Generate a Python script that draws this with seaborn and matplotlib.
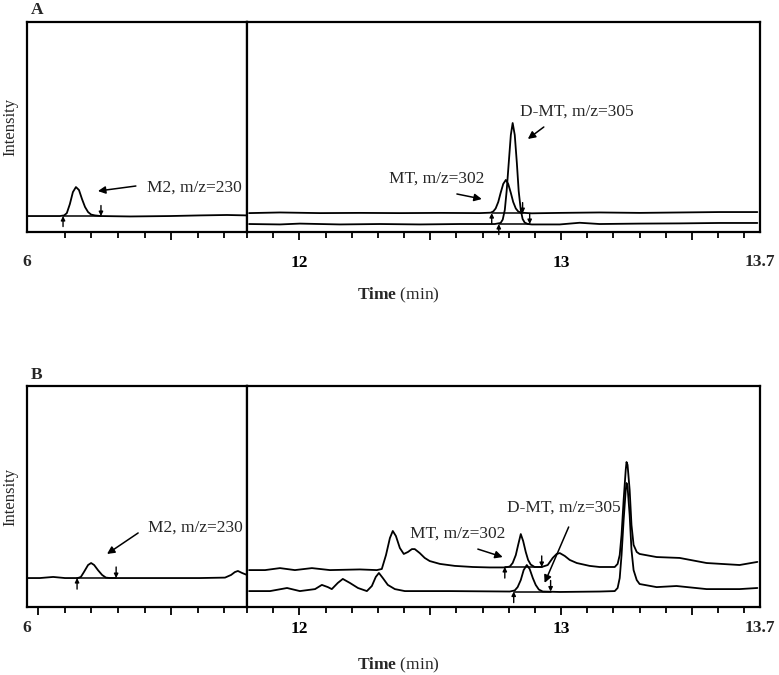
import matplotlib
matplotlib.use("Agg")
import matplotlib.pyplot as plt
import matplotlib.transforms as mtransforms
import seaborn as sns

# ---- panel A, left window (6 - 11.8 min) : M2, m/z=230
a_left_t = [6.00, 6.61, 6.87, 6.98, 7.05, 7.13, 7.21, 7.29, 7.37, 7.45, 7.53,
            7.61, 7.69, 7.79, 7.95, 8.72, 9.77, 10.56, 11.27, 11.80]
a_left_i = [7.6, 7.6, 7.6, 7.9, 9.0, 13.3, 19.0, 21.4, 20.0, 15.7, 11.9,
            9.5, 8.3, 7.9, 7.6, 7.4, 7.6, 7.9, 8.1, 7.9]

# ---- panel A, right window : MT m/z=302 (upper) and D-MT m/z=305 (lower)
a_mt_t = [11.808, 11.926, 12.079, 12.231, 12.384, 12.537, 12.689, 12.731, 12.741,
          12.750, 12.760, 12.769, 12.779, 12.789, 12.798, 12.808, 12.817, 12.827,
          12.836, 12.846, 12.888, 12.995, 13.147, 13.300, 13.453, 13.605, 13.750]
a_mt_i = [9.0, 9.3, 9.0, 9.1, 9.0, 9.1, 9.0, 9.2, 9.8,
          11.2, 14.3, 18.6, 22.9, 24.8, 22.9, 18.6, 14.3, 11.2,
          9.8, 9.2, 8.9, 9.1, 9.3, 9.1, 9.3, 9.5, 9.5]
a_dmt_t = [11.808, 11.926, 12.002, 12.155, 12.308, 12.460, 12.613, 12.747, 12.769,
           12.777, 12.785, 12.792, 12.800, 12.808, 12.815, 12.823, 12.831, 12.838,
           12.846, 12.853, 12.861, 12.873, 12.888, 12.995, 13.071, 13.147, 13.300,
           13.453, 13.605, 13.750]
a_dmt_i = [3.8, 3.6, 4.0, 3.6, 3.8, 3.6, 3.8, 3.8, 4.3,
           5.9, 10.5, 19.5, 32.9, 46.2, 51.9, 46.2, 32.9, 19.5,
           10.5, 6.2, 4.5, 3.8, 3.6, 3.6, 4.4, 3.8, 4.0,
           4.1, 4.3, 4.3]

# ---- panel B, left window
b_left_t = [6.00, 6.34, 6.69, 7.00, 7.34, 7.42, 7.50, 7.61, 7.69, 7.77, 7.87,
            7.98, 8.08, 8.19, 9.24, 10.56, 11.22, 11.38, 11.48, 11.56, 11.67, 11.80]
b_left_i = [13.1, 13.1, 13.6, 13.1, 13.1, 13.6, 15.8, 19.0, 19.9, 19.0, 16.7,
            14.5, 13.3, 13.1, 13.1, 13.1, 13.3, 14.5, 15.8, 16.3, 15.4, 14.5]

# ---- panel B, right window
b_mt_t = [11.808, 11.869, 11.926, 11.983, 12.048, 12.117, 12.231, 12.296, 12.315,
          12.331, 12.346, 12.357, 12.369, 12.384, 12.399, 12.415, 12.430, 12.441,
          12.460, 12.479, 12.498, 12.537, 12.594, 12.663, 12.727, 12.785, 12.804,
          12.815, 12.827, 12.836, 12.846, 12.855, 12.865, 12.874, 12.884, 12.899,
          12.926, 12.949, 12.968, 12.983, 12.995, 13.014, 13.033, 13.060, 13.109,
          13.147, 13.205, 13.216, 13.224, 13.231, 13.239, 13.247, 13.250, 13.254,
          13.262, 13.269, 13.277, 13.289, 13.300, 13.365, 13.453, 13.556, 13.682,
          13.750]
b_mt_i = [16.7, 16.7, 17.6, 16.7, 17.6, 16.7, 17.0, 16.7, 17.2,
          23.5, 31.2, 34.4, 32.1, 26.7, 24.0, 24.9, 26.2, 26.2,
          24.4, 22.2, 20.8, 19.5, 18.6, 18.1, 17.9, 17.9, 18.3,
          19.9, 23.5, 28.1, 33.0, 29.9, 24.9, 21.3, 19.2, 18.1,
          18.1, 19.0, 22.2, 24.0, 24.4, 23.1, 21.3, 19.9, 18.6,
          18.1, 18.1, 19.5, 23.5, 32.6, 48.4, 62.0, 65.6, 64.3,
          52.9, 37.1, 28.1, 24.9, 24.0, 22.6, 22.2, 19.9, 19.0,
          20.4]
b_dmt_t = [11.808, 11.888, 11.953, 12.002, 12.060, 12.086, 12.109, 12.124, 12.147,
           12.166, 12.193, 12.224, 12.258, 12.277, 12.292, 12.304, 12.319, 12.338,
           12.365, 12.403, 12.575, 12.804, 12.823, 12.834, 12.846, 12.857, 12.869,
           12.880, 12.892, 12.903, 12.915, 12.930, 12.995, 13.147, 13.205, 13.216,
           13.224, 13.231, 13.239, 13.247, 13.250, 13.254, 13.262, 13.269, 13.277,
           13.289, 13.300, 13.365, 13.441, 13.556, 13.682, 13.750]
b_dmt_i = [7.2, 7.2, 8.6, 7.2, 8.1, 10.0, 9.0, 8.1, 10.9,
           12.7, 10.9, 8.6, 7.2, 9.5, 13.6, 15.4, 13.1, 10.0,
           8.1, 7.2, 7.2, 7.0, 7.5, 9.0, 12.2, 16.7, 19.0,
           17.2, 13.1, 10.0, 7.9, 7.0, 6.8, 7.0, 7.2, 8.6,
           13.1, 23.5, 39.4, 52.9, 56.1, 54.3, 41.6, 25.8, 16.7,
           12.2, 10.4, 9.0, 9.5, 8.1, 8.1, 8.6]

# integration marks: (start, end, baseline)
a_left_marks = [(6.95, 7.95, 7.6)]
a_right_marks = [(12.735, 12.853, 9.0), (12.762, 12.880, 3.8)]
b_left_marks = [(7.32, 8.35, 13.1)]
b_right_marks = [(12.785, 12.926, 18.1), (12.819, 12.960, 7.0)]

# labels: (text, text x, text y, arrow tail x, tail y, head x, head y)
a_left_notes = [("M2, m/z=230", 9.16, 21.0, 8.87, 21.9, 7.87, 19.5)]
a_right_notes = [("MT, m/z=302", 12.342, 25.2, 12.602, 18.1, 12.697, 15.7),
                 ("D-MT, m/z=305", 12.842, 57.1, 12.934, 50.0, 12.873, 44.3)]
b_left_notes = [("M2, m/z=230", 9.19, 35.7, 8.93, 33.5, 8.11, 24.0)]
b_right_notes = [("MT, m/z=302", 12.422, 33.0, 12.682, 26.2, 12.777, 22.6),
                 ("D-MT, m/z=305", 12.792, 44.8, 13.029, 36.2, 12.937, 10.9)]

sns.set_style("white")
plt.rcParams["font.family"] = ["Liberation Serif", "DejaVu Serif"]
plt.rcParams["mathtext.fontset"] = "custom"
plt.rcParams["mathtext.rm"] = "Liberation Serif"
plt.rcParams["mathtext.bf"] = "Liberation Serif:bold"

fig = plt.figure(figsize=(7.79, 6.75), dpi=100)

x0, xd, x1 = 27 / 779, 247 / 779, 760 / 779
panels = [
    ("A", 1 - 232 / 675, 210 / 675, [(a_left_t, a_left_i)], [(a_mt_t, a_mt_i), (a_dmt_t, a_dmt_i)],
     a_left_marks, a_right_marks, a_left_notes, a_right_notes, [9.8], 295, 30),
    ("B", 1 - 607 / 675, 221 / 675, [(b_left_t, b_left_i)], [(b_mt_t, b_mt_i), (b_dmt_t, b_dmt_i)],
     b_left_marks, b_right_marks, b_left_notes, b_right_notes, [6.3, 9.8], 665, 21),
]


def draw_marks(ax, marks, arrow_len):
    for start, end, base in marks:
        ax.plot([start, end], [base, base], color="black", lw=1.1)
        ax.annotate("", xy=(start, base), xytext=(start, base - arrow_len),
                    arrowprops=dict(arrowstyle="-|>", color="black", lw=1.0,
                                    mutation_scale=6, shrinkA=0, shrinkB=0))
        ax.annotate("", xy=(end, base), xytext=(end, base + arrow_len),
                    arrowprops=dict(arrowstyle="-|>", color="black", lw=1.0,
                                    mutation_scale=6, shrinkA=0, shrinkB=0))


def draw_notes(ax, notes):
    for txt, tx, ty, ax_, ay, hx, hy in notes:
        ax.text(tx, ty, txt, fontsize=12.5, ha="left", va="center")
        ax.annotate("", xy=(hx, hy), xytext=(ax_, ay),
                    arrowprops=dict(arrowstyle="-|>", color="black", lw=1.1,
                                    mutation_scale=11, shrinkA=0, shrinkB=0))


for (letter, bottom, height, left_traces, right_traces, lmarks, rmarks,
     lnotes, rnotes, left_major, label_y, tick_off) in panels:
    axl = fig.add_axes([x0, bottom, xd - x0, height])
    axr = fig.add_axes([xd, bottom, x1 - xd, height])

    for t, i in left_traces:
        sns.lineplot(x=t, y=i, ax=axl, color="black", lw=1.3)
    for t, i in right_traces:
        sns.lineplot(x=t, y=i, ax=axr, color="black", lw=1.3)

    axl.set_xlim(6, 11.8)
    axr.set_xlim(11.8, 13.76)
    # pad so that tick label centres sit tick_off px below the box
    pad_pt = (tick_off - 7 - 8.3) / 1.389
    for a in (axl, axr):
        a.set_ylim(0, 100)
        a.set_yticks([])
        a.set_ylabel("")
        a.set_xlabel("")
        for s in a.spines.values():
            s.set_linewidth(1.6)
            s.set_color("black")
        a.tick_params(axis="x", which="major", bottom=True, direction="out",
                      length=6, width=1.3, colors="black", labelsize=12.5,
                      pad=pad_pt)
        a.tick_params(axis="x", which="minor", bottom=True, direction="out",
                      length=4, width=1.3, colors="black")

    axl.set_xticks(left_major)
    axl.set_xticklabels([""] * len(left_major))
    axl.set_xticks([7.0, 7.7, 8.4, 9.1, 10.5, 11.2], minor=True)
    axr.set_xticks([12, 12.5, 13, 13.5])
    axr.set_xticklabels(["12", "", "13", ""], fontweight="bold")
    axr.set_xticks([11.8, 11.9, 12.1, 12.2, 12.3, 12.4, 12.6, 12.7, 12.8, 12.9,
                    13.1, 13.2, 13.3, 13.4, 13.6, 13.7], minor=True)

    tl = mtransforms.blended_transform_factory(axl.transData, axl.transAxes)
    tr = mtransforms.blended_transform_factory(axr.transData, axr.transAxes)
    tick_lbl_y = -tick_off / (height * 675)
    axl.text(6, tick_lbl_y, "6", transform=tl, ha="center", va="center",
             fontsize=12.5, fontweight="bold")
    axr.text(13.7, tick_lbl_y, "13.7", transform=tr, ha="left", va="center",
             fontsize=12.5, fontweight="bold")

    draw_marks(axl, lmarks, 5)
    draw_marks(axr, rmarks, 5)
    draw_notes(axl, lnotes)
    draw_notes(axr, rnotes)

    axl.set_ylabel("Intensity", fontsize=12, labelpad=6)
    fig.text(0.511, 1 - label_y / 675, r"$\mathbf{Time}$ (min)", ha="center",
             va="center", fontsize=12.5)
    fig.text(37 / 779, 1 - (10 if letter == "A" else 375) / 675, letter,
             ha="center", va="center", fontsize=12.5, fontweight="bold")

fig.savefig("out.png", dpi=100)
